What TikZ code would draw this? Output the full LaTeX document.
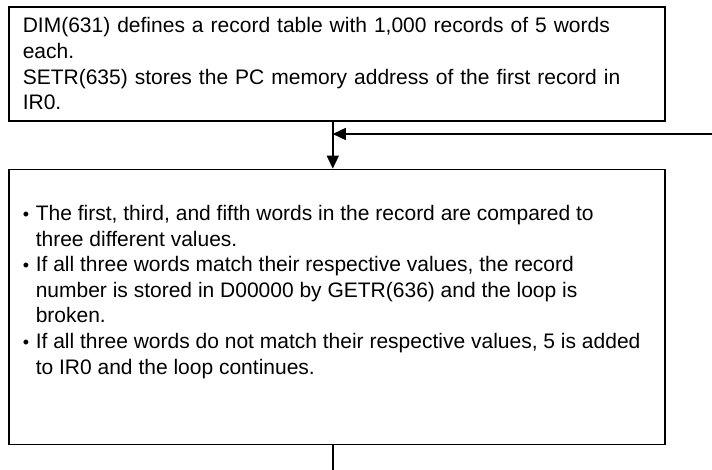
\documentclass[tikz,border=0pt]{standalone}
\usepackage{fontspec}
\setmainfont{Liberation Sans}
\usepackage{tikz}
\usetikzlibrary{arrows.meta,calc,positioning}
\newcommand{\itm}{\par\hangindent=13pt\hangafter=1\noindent\makebox[13pt][l]{\raisebox{0.5pt}{\fontsize{18}{18}\selectfont\textbullet}}}

\begin{document}
\begin{tikzpicture}[x=1pt,y=1pt,node distance=47pt,>={Triangle[length=13pt,width=12pt]},
  box/.style={draw,line width=1.6pt,inner xsep=14pt,inner ysep=0pt,text width=628pt,align=left,
    font=\fontsize{21}{25.6}\selectfont}]
  \useasboundingbox (0,0) rectangle (712,-470);
  \node[box,minimum height=114pt,anchor=north west] (dim) at (8,-6) {DIM(631) defines a record table with 1,000 records of 5 words\\
  each.\\
  SETR(635) stores the PC memory address of the first record in\\
  IR0.};
  \node[draw,line width=1.6pt,inner xsep=14pt,inner ysep=0pt,minimum height=275pt,below=of dim] (cmp)
  {\begin{minipage}{628pt}\fontsize{21}{25.6}\selectfont
  \itm The first, third, and fifth words in the record are compared to\newline
  three different values.
  \itm If all three words match their respective values, the record\newline
  number is stored in D00000 by GETR(636) and the loop is\newline
  broken.
  \itm If all three words do not match their respective values, 5 is added\newline
  to IR0 and the loop continues.\par\vspace*{30pt}
  \end{minipage}};
  \coordinate (j) at ([xshift=-4pt]dim.south);
  \coordinate (back) at (712,-134);
  \coordinate (exit) at (j |- 0,-470);
  \draw[->,line width=1.6pt] (j) -- (j |- cmp.north);
  \draw[->,line width=1.6pt] (back) -- (back -| j);
  \draw[line width=1.6pt] (j |- cmp.south) -- (exit);
\end{tikzpicture}
\end{document}
